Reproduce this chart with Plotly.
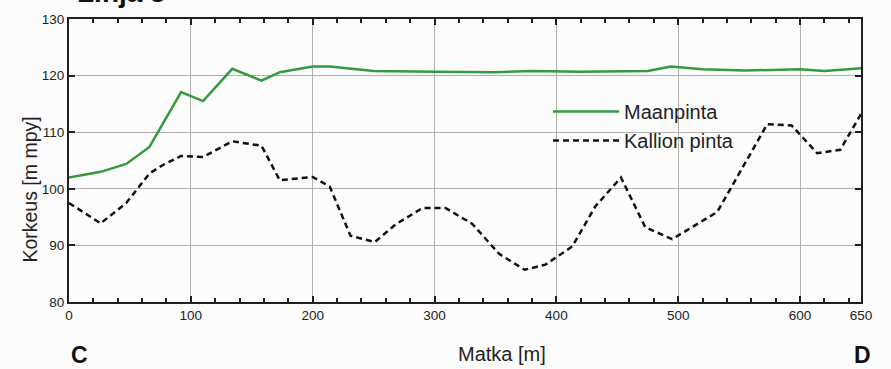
import plotly.graph_objects as go

# Maanpinta (ground surface)
ground_x = [0, 26, 47, 66, 92, 110, 134, 158, 173, 200, 214, 230, 250, 300, 350, 380, 420, 475, 494, 520, 555, 600, 620, 650]
ground_y = [102.0, 103.0, 104.4, 107.4, 117.1, 115.5, 121.2, 119.1, 120.6, 121.6, 121.6, 121.3, 120.8, 120.7, 120.6, 120.8, 120.7, 120.8, 121.6, 121.1, 120.9, 121.1, 120.8, 121.3]

# Kallion pinta (bedrock surface)
rock_x = [0, 26, 47, 66, 77, 92, 110, 134, 158, 173, 200, 214, 231, 251, 268, 290, 309, 331, 353, 374, 391, 413, 432, 453, 473, 495, 532, 573, 593, 614, 633, 650]
rock_y = [97.5, 93.9, 97.5, 102.7, 104.2, 105.8, 105.6, 108.4, 107.6, 101.5, 102.1, 100.4, 91.7, 90.6, 93.7, 96.6, 96.6, 93.8, 88.5, 85.7, 86.6, 89.8, 96.9, 102.0, 93.2, 91.1, 95.9, 111.4, 111.2, 106.3, 106.9, 113.2]

x_ticks = [0, 100, 200, 300, 400, 500, 600, 650]
y_ticks = [80, 90, 100, 110, 120, 130]

TICKFONT = "Liberation Sans Narrow, Arial Narrow, Liberation Sans, Arial, sans-serif"
FONT = "Liberation Sans, Arial, sans-serif"
FRAME = "#231f20"
GRID = "#b4b0ae"

fig = go.Figure()
fig.add_trace(go.Scatter(x=ground_x, y=ground_y, mode="lines", name="Maanpinta",
                         line=dict(color="#339b3c", width=2.5)))
fig.add_trace(go.Scatter(x=rock_x, y=rock_y, mode="lines", name="Kallion pinta",
                         line=dict(color="#111111", width=2.5, dash="6px,4px")))

axis_common = dict(showline=True, linecolor=FRAME, linewidth=2, mirror="ticks",
                   ticks="inside", tickcolor=FRAME, tickwidth=1.5, ticklen=6,
                   showgrid=True, gridcolor=GRID, gridwidth=1, zeroline=False,
                   tickfont=dict(family=TICKFONT, size=13.5, color="#222"))

fig.update_xaxes(range=[0, 650], tickvals=x_ticks, ticktext=[str(v) for v in x_ticks],
                 minor=dict(dtick=20, tick0=0, ticks="inside", ticklen=4, tickcolor=FRAME, showgrid=False),
                 **axis_common)
fig.update_yaxes(range=[80, 130], tickvals=y_ticks, **axis_common)

fig.update_layout(
    width=891, height=369,
    margin=dict(l=69, r=30, t=15, b=67),
    paper_bgcolor="#fcfcfc", plot_bgcolor="#fcfcfc",
    showlegend=True,
    legend=dict(x=(548 - 69) / 792, y=(302 - 89) / 287, xanchor="left", yanchor="top",
                bgcolor="rgba(0,0,0,0)", font=dict(family=FONT, size=20, color="#222"),
                itemwidth=66, tracegroupgap=0),
    font=dict(family=FONT, color="#222"),
)

fig.add_annotation(text="<b>Linja 5</b>", xref="paper", yref="paper", x=(75 - 69) / 792, y=1 + (15 - 5.5) / 287,
                   xanchor="left", yanchor="bottom", showarrow=False,
                   font=dict(family=FONT, size=28, color="#111"))
fig.add_annotation(text="Korkeus [m mpy]", xref="paper", yref="paper", x=(30 - 69) / 792, y=(302 - 188) / 287,
                   xanchor="center", yanchor="middle", textangle=-90, showarrow=False,
                   font=dict(family=FONT, size=19.5, color="#222"))
fig.add_annotation(text="Matka [m]", xref="paper", yref="paper", x=(502 - 69) / 792, y=(302 - 355) / 287,
                   xanchor="center", yanchor="middle", showarrow=False,
                   font=dict(family=FONT, size=20, color="#222"))
fig.add_annotation(text="<b>C</b>", xref="paper", yref="paper", x=(79 - 69) / 792, y=(302 - 356) / 287,
                   xanchor="center", yanchor="middle", showarrow=False,
                   font=dict(family=FONT, size=23, color="#111"))
fig.add_annotation(text="<b>D</b>", xref="paper", yref="paper", x=(862 - 69) / 792, y=(302 - 356) / 287,
                   xanchor="center", yanchor="middle", showarrow=False,
                   font=dict(family=FONT, size=23, color="#111"))

fig.write_html("out.html", config={"displayModeBar": False},
               post_script="document.body.style.margin='0';document.body.style.overflow='hidden';")
